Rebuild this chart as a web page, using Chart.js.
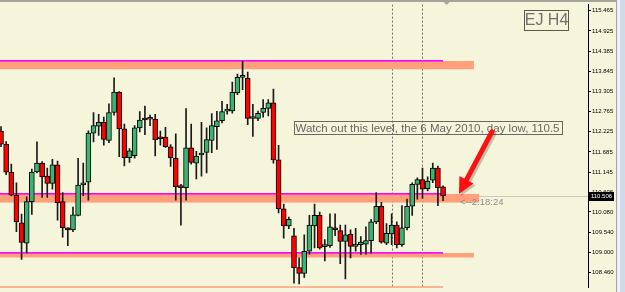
<!DOCTYPE html>
<html>
<head>
<meta charset="utf-8">
<script src="https://cdn.jsdelivr.net/npm/chart.js@4/dist/chart.umd.min.js"></script>
<style>html,body{margin:0;padding:0;background:#f5f5dc;overflow:hidden}</style>
</head>
<body>
<canvas id="chart" width="625" height="292"></canvas>
<script>
// EJ H4 candles (oldest first)
var opens  = [112.243,111.892,111.142,110.529,109.788,109.245,110.356,111.150,111.386,111.038,
              110.843,111.341,110.356,109.657,109.597,109.990,110.802,110.880,112.190,112.374,
              112.479,111.996,112.741,113.291,112.303,111.535,111.588,112.329,112.550,112.560,
              112.565,112.050,112.086,111.824,111.517,110.776,110.731,111.797,111.386,111.603,
              111.674,111.996,112.363,112.521,112.780,112.783,113.265,113.680,113.658,112.580,
              112.583,112.741,112.853,113.003,111.472,110.162,109.709,109.439,108.590,108.433,
              109.028,109.709,109.990,109.150,109.177,109.657,109.578,109.290,109.481,109.159,
              109.204,109.219,109.308,109.814,110.233,109.245,109.492,109.728,109.204,109.657,
              110.233,110.817,110.948,110.705,110.933,111.255,110.750];
var highs  = [112.363,111.962,111.360,110.862,110.024,110.487,111.229,111.955,111.431,111.255,
              111.491,111.439,110.600,109.660,110.207,111.517,111.386,112.251,112.741,112.696,
              112.617,112.976,113.673,113.300,112.434,111.779,112.389,112.767,112.913,112.670,
              112.696,112.243,112.348,111.884,112.172,110.820,112.845,112.434,111.700,112.479,
              112.329,112.714,112.775,113.044,112.958,113.553,113.770,114.119,113.823,112.958,
              112.783,113.089,113.089,113.369,111.865,110.293,109.945,109.638,108.852,109.466,
              109.990,110.293,110.076,109.343,110.031,110.031,109.728,109.728,109.604,109.638,
              109.421,109.683,109.885,110.600,110.338,109.769,110.031,109.814,110.251,110.424,
              110.862,110.993,111.255,111.019,111.386,111.307,110.780];
var lows   = [111.824,111.080,110.508,109.552,108.811,108.983,110.016,111.124,110.469,110.469,
              110.687,109.859,109.403,109.178,109.552,109.971,110.514,110.398,111.955,112.127,
              111.865,111.936,112.670,111.561,111.315,111.404,111.517,112.224,112.146,112.389,
              111.577,111.865,111.805,111.300,110.398,109.728,110.398,111.360,110.967,111.038,
              111.124,111.666,111.753,112.460,112.696,112.722,113.220,113.351,112.416,112.101,
              112.521,112.617,112.651,111.386,110.057,109.376,109.631,108.171,108.150,108.328,
              108.950,109.114,109.080,108.766,109.133,109.447,108.695,108.286,108.852,109.028,
              108.942,108.950,108.975,109.769,109.245,109.204,109.204,109.114,109.159,109.597,
              109.990,110.424,110.440,110.645,110.862,110.251,110.383];
var closes = [111.892,111.142,110.529,109.814,109.264,110.356,111.150,111.386,111.019,110.843,
              111.341,110.320,109.657,109.597,110.005,110.802,110.862,112.190,112.389,112.479,
              112.023,112.741,113.291,112.303,111.535,111.719,112.329,112.539,112.540,112.570,
              112.015,112.040,111.824,111.535,110.757,110.731,111.797,111.404,111.577,111.648,
              112.015,112.389,112.521,112.767,112.785,113.280,113.684,113.690,112.583,112.590,
              112.722,112.853,113.003,111.472,110.162,109.709,109.885,108.590,108.433,109.028,
              109.728,109.990,109.114,109.200,109.683,109.597,109.290,109.466,109.159,109.219,
              109.272,109.316,109.814,110.233,109.272,109.508,109.728,109.204,109.657,110.233,
              110.817,110.948,110.687,110.907,111.255,110.731,110.506];

var tickValues = [115.465,114.925,114.385,113.845,113.305,112.765,112.225,111.685,111.145,110.605,110.080,109.540,109.000,108.460];
var tickLabels = ['115.465','114.925','114.385','113.845','113.305','112.765','112.225','111.685','111.145','110.605','110.080','109.540','109.000','108.460'];

// support / resistance zones drawn on the chart
var zoneTop    = [114.12, 110.56, 108.98, 108.09];
var zoneBottom = [113.90, 110.33, 108.86, 108.06];
var zoneEnd    = [92, 93, 92, 86];
var zoneLine   = [true, true, true, false];
var separators = [76, 82];
var lastPrice = 110.506;

var wicks = [], bodies = [], bodyColors = [];
for (var i = 0; i < opens.length; i++) {
  wicks.push({x: i, y: [lows[i], highs[i]]});
  bodies.push({x: i, y: [Math.min(opens[i], closes[i]), Math.max(opens[i], closes[i])]});
  bodyColors.push(closes[i] >= opens[i] ? '#3cb371' : '#ff0000');
}

function drawArrow(ctx, x0, y0, x1, y1, color) {
  var ang = Math.atan2(y1 - y0, x1 - x0);
  var hl = 16, hw = 8;
  var bx = x1 - hl * Math.cos(ang), by = y1 - hl * Math.sin(ang);
  ctx.strokeStyle = color; ctx.fillStyle = color;
  ctx.lineWidth = 5; ctx.lineCap = 'round';
  ctx.beginPath(); ctx.moveTo(x0, y0); ctx.lineTo(bx, by); ctx.stroke();
  ctx.beginPath(); ctx.moveTo(x1, y1);
  ctx.lineTo(bx + hw * Math.sin(ang), by - hw * Math.cos(ang));
  ctx.lineTo(bx - hw * Math.sin(ang), by + hw * Math.cos(ang));
  ctx.closePath(); ctx.fill();
}

var mt4 = {
  id: 'mt4',
  beforeDraw: function(chart) {
    var ctx = chart.ctx;
    ctx.save();
    ctx.fillStyle = '#f5f5dc';
    ctx.fillRect(0, 0, chart.width, chart.height);
    ctx.restore();
  },
  beforeDatasetsDraw: function(chart) {
    var ctx = chart.ctx, a = chart.chartArea, x = chart.scales.x, y = chart.scales.y;
    ctx.save();
    // day separators
    ctx.strokeStyle = '#707070'; ctx.lineWidth = 1; ctx.setLineDash([2, 2]);
    separators.forEach(function(s) {
      var px = Math.round(x.getPixelForValue(s)) + 0.5;
      ctx.beginPath(); ctx.moveTo(px, a.top); ctx.lineTo(px, a.bottom); ctx.stroke();
    });
    ctx.setLineDash([]);
    // bid line
    var by = Math.round(y.getPixelForValue(lastPrice)) + 0.5;
    ctx.strokeStyle = '#c8c8c0';
    ctx.beginPath(); ctx.moveTo(a.left, by); ctx.lineTo(a.right, by); ctx.stroke();
    // zones
    var x0 = a.left, lineEndPx = x.getPixelForValue(opens.length - 1);
    for (var k = 0; k < zoneTop.length; k++) {
      var t = y.getPixelForValue(zoneTop[k]), b = y.getPixelForValue(zoneBottom[k]);
      var xe = x.getPixelForValue(zoneEnd[k]);
      ctx.fillStyle = '#ffa07a';
      ctx.fillRect(x0, t, xe - x0, Math.max(b - t, 1.5));
      if (zoneLine[k]) {
        ctx.fillStyle = '#ff00ff';
        ctx.fillRect(x0, t - 1, lineEndPx - x0, 1.6);
      }
    }
    ctx.restore();
  },
  afterDraw: function(chart) {
    var ctx = chart.ctx, a = chart.chartArea, x = chart.scales.x, y = chart.scales.y;
    ctx.save();
    // top bar and shift marker
    ctx.fillStyle = '#a4a49a';
    ctx.fillRect(0, 0, 616, 2);
    var sx = x.getPixelForValue(86.7);
    ctx.beginPath(); ctx.moveTo(sx - 3, 2); ctx.lineTo(sx + 3, 2); ctx.lineTo(sx, 5); ctx.closePath(); ctx.fill();
    // scrollbar on the right
    ctx.fillStyle = '#9aa4b0'; ctx.fillRect(616, 0, 1, chart.height);
    ctx.fillStyle = '#eef2f8'; ctx.fillRect(617, 0, 3, chart.height);
    ctx.fillStyle = '#d0dcec'; ctx.fillRect(620, 0, 5, chart.height);

    // symbol label
    ctx.strokeStyle = '#5a5a4a'; ctx.lineWidth = 1;
    ctx.strokeRect(524.5, 10.5, 44, 20);
    ctx.fillStyle = '#707070';
    ctx.font = '16px "Liberation Sans", Arial, sans-serif';
    ctx.textAlign = 'center'; ctx.textBaseline = 'middle';
    ctx.fillText('EJ H4', 546.5, 21);

    // comment
    ctx.strokeStyle = '#6a6a5a';
    ctx.strokeRect(294.5, 121.5, 268, 13);
    ctx.fillStyle = '#666666';
    ctx.font = '11.5px "Liberation Sans", Arial, sans-serif';
    ctx.textAlign = 'left';
    ctx.fillText('Watch out this level, the 6 May 2010, day low, 110.5', 295.5, 128.5);

    // arrow with shadow
    var tx = x.getPixelForValue(89.1), ty = y.getPixelForValue(110.56);
    var fx = x.getPixelForValue(95.5), fy = y.getPixelForValue(112.225);
    drawArrow(ctx, fx + 2, fy + 2, tx + 2, ty + 2, 'rgba(0,0,0,0.22)');
    drawArrow(ctx, fx, fy, tx, ty, '#ff1010');

    // bar timer
    ctx.fillStyle = '#8c8c8c';
    ctx.font = '9.5px "Liberation Sans", Arial, sans-serif';
    ctx.fillText('<--2:18:24', tx + 1, y.getPixelForValue(110.34));

    // last price label
    var py = Math.round(y.getPixelForValue(lastPrice));
    ctx.fillStyle = '#000000';
    ctx.fillRect(589, py - 4, 25, 9);
    ctx.fillStyle = '#ffffff';
    ctx.font = '6px "Liberation Sans", Arial, sans-serif';
    ctx.textAlign = 'center';
    ctx.fillText(lastPrice.toFixed(3), 601.5, py + 0.5);
    ctx.restore();
  }
};

new Chart(document.getElementById('chart'), {
  type: 'bar',
  data: {
    datasets: [
      {
        label: 'bodies',
        data: bodies,
        backgroundColor: bodyColors,
        borderColor: '#000000',
        borderWidth: 1,
        borderSkipped: false,
        barThickness: 5,
        minBarLength: 2,
        grouped: false,
        order: 1
      },
      {
        label: 'wicks',
        data: wicks,
        backgroundColor: '#1a1a1a',
        borderWidth: 0,
        barThickness: 1,
        grouped: false,
        order: 2
      }
    ]
  },
  options: {
    responsive: false,
    animation: false,
    events: [],
    layout: {padding: {top: 3, left: 0, right: 0, bottom: 0}},
    plugins: {legend: {display: false}, tooltip: {enabled: false}},
    scales: {
      x: {type: 'linear', min: -0.195, max: 114.2, offset: false, bounds: 'data', grid: {offset: false}, display: false},
      y: {
        position: 'right',
        min: 108.06,
        max: 115.63,
        afterBuildTicks: function(s) { s.ticks = tickValues.map(function(v) { return {value: v}; }); },
        afterFit: function(s) { s.width = 37; },
        ticks: {
          callback: function(v, i) { return tickLabels[i]; },
          font: {family: 'Liberation Sans', size: 6},
          color: '#000000',
          padding: 1,
          autoSkip: false,
          maxRotation: 0
        },
        grid: {drawOnChartArea: false, tickLength: 3, color: '#000000'},
        border: {display: true, color: '#000000'}
      }
    }
  },
  plugins: [mt4]
});
</script>
</body>
</html>
